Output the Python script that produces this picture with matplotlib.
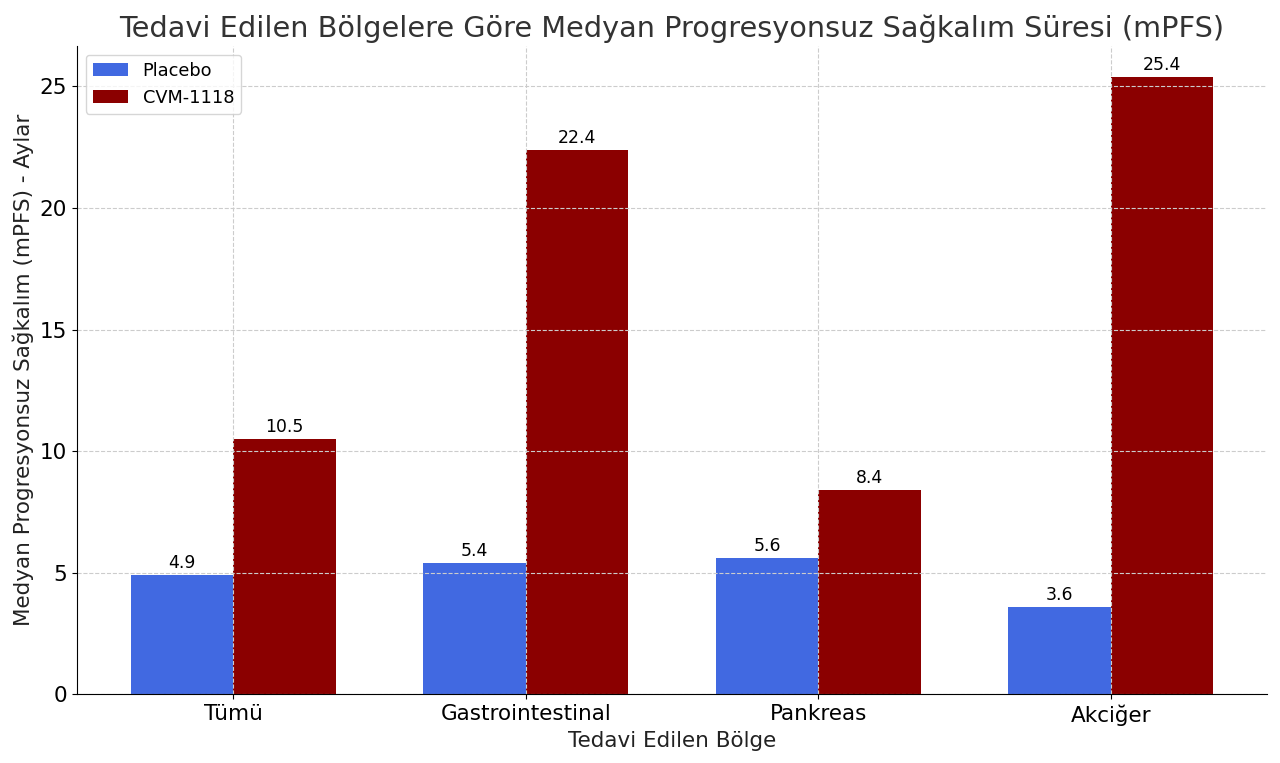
import matplotlib
matplotlib.use("Agg")
import matplotlib.pyplot as plt
import numpy as np

categories = ["Tümü", "Gastrointestinal", "Pankreas", "Akciğer"]
placebo = [4.9, 5.4, 5.6, 3.6]
cvm = [10.5, 22.4, 8.4, 25.4]
series_names = ["Placebo", "CVM-1118"]

fig, ax = plt.subplots(figsize=(12.8, 7.63), dpi=100)
x = np.arange(len(categories))
w = 0.35
b1 = ax.bar(x - w/2, placebo, w, color="#4169E1", label=series_names[0])
b2 = ax.bar(x + w/2, cvm, w, color="#8B0000", label=series_names[1])

for bars in (b1, b2):
    for r in bars:
        h = r.get_height()
        ax.annotate(f"{h:.1f}", (r.get_x() + r.get_width()/2, h), xytext=(0, 2),
                    textcoords="offset points", ha="center", va="bottom", fontsize=12.4)

ax.set_xticks(x)
ax.set_xticklabels(categories)
ax.tick_params(labelsize=15.5)
ax.set_xlabel("Tedavi Edilen Bölge", fontsize=15.5, color="#222222")
ax.set_ylabel("Medyan Progresyonsuz Sağkalım (mPFS) - Aylar", fontsize=15.5, color="#222222")
ax.set_title("Tedavi Edilen Bölgelere Göre Medyan Progresyonsuz Sağkalım Süresi (mPFS)",
             fontsize=20.7, color="#333333")
ax.grid(True, linestyle="--", color="#cccccc", linewidth=0.8)
ax.spines["top"].set_visible(False)
ax.spines["right"].set_visible(False)
ax.legend(loc="upper left", fontsize=12.8)
fig.subplots_adjust(left=0.06, right=0.99, top=0.94, bottom=0.09)
fig.savefig("out.png", dpi=100)
